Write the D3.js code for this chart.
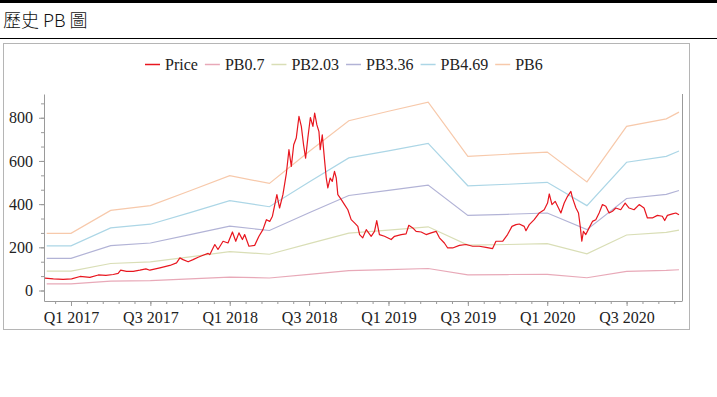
<!DOCTYPE html>
<html lang="zh-Hant">
<head>
  <meta charset="UTF-8">
  <title>歷史 PB 圖</title>
  <script src="https://d3js.org/d3.v7.min.js"></script>
  <style>
    body {
      margin: 0;
      background: #fff;
    }

    svg {
      display: block;
    }

    .title {
      font-family: "Noto Sans CJK TC", sans-serif;
      font-size: 18px;
      font-weight: 300;
      fill: #111;
    }

    .axis text, .legend-label {
      font-family: "Liberation Serif", "Times New Roman", serif;
      font-size: 16px;
      fill: #222;
    }

    .axis path, .axis line {
      stroke: #9a9a9a;
    }
  </style>
</head>
<body>
  <svg width="717" height="397"></svg>

  <script>
    // PB band values at quarter points (time as decimal year)
    const bookYears = [2016.847, 2017.0, 2017.25, 2017.5, 2017.75, 2018.0, 2018.25, 2018.5, 2018.75,
      2019.0, 2019.25, 2019.5, 2019.75, 2020.0, 2020.25, 2020.5, 2020.75, 2020.83];
    const pb07 = [31, 31, 43, 46, 54, 62, 58, 75, 92, 97, 102, 72, 74, 75, 59, 89, 93, 96];
    const pb203 = [90, 90, 125, 133, 156, 180, 168, 217, 266, 280, 295, 210, 213, 217, 170, 257, 269, 280];
    const pb336 = [149, 149, 208, 220, 259, 298, 278, 360, 440, 464, 488, 348, 353, 359, 282, 426, 445, 463];
    const pb469 = [207, 207, 290, 307, 361, 416, 388, 502, 614, 647, 681, 485, 492, 501, 393, 594, 621, 646];
    const pb6 = [265, 265, 371, 393, 462, 532, 496, 644, 786, 830, 872, 621, 631, 641, 503, 760, 795, 826];

    const pbNames = ["PB0.7", "PB2.03", "PB3.36", "PB4.69", "PB6"];
    const pbColors = ["#e8a9b8", "#d9deb6", "#b2b3d6", "#acd6e6", "#f7c9ab"];

    // [decimal year, price]
    const price = [
      [2016.836, 57], [2016.889, 54], [2016.95, 52], [2017.004, 54], [2017.057, 65], [2017.119, 61], [2017.172, 72],
      [2017.22, 70], [2017.266, 74], [2017.297, 79], [2017.313, 94], [2017.350, 89], [2017.392, 89], [2017.434, 94],
      [2017.472, 100], [2017.497, 94], [2017.560, 105], [2017.623, 116], [2017.665, 128], [2017.686, 151],
      [2017.706, 143], [2017.738, 133], [2017.769, 143], [2017.801, 154], [2017.832, 163], [2017.864, 172],
      [2017.874, 166], [2017.906, 213], [2017.926, 190], [2017.958, 228], [2017.989, 220], [2018.017, 271],
      [2018.038, 228], [2018.058, 267], [2018.080, 236], [2018.094, 259], [2018.121, 205], [2018.157, 209],
      [2018.184, 251], [2018.209, 282], [2018.231, 328], [2018.252, 320], [2018.269, 344], [2018.297, 444],
      [2018.314, 382], [2018.335, 444], [2018.357, 544], [2018.373, 652], [2018.388, 575], [2018.403, 675],
      [2018.419, 706], [2018.436, 806], [2018.451, 760], [2018.465, 675], [2018.478, 613], [2018.492, 706],
      [2018.508, 801], [2018.524, 760], [2018.535, 822], [2018.549, 767], [2018.562, 736], [2018.570, 652],
      [2018.583, 721], [2018.597, 606], [2018.608, 521], [2018.618, 475], [2018.633, 521], [2018.646, 505],
      [2018.660, 552], [2018.671, 521], [2018.681, 444], [2018.703, 421], [2018.723, 398], [2018.744, 374],
      [2018.765, 328], [2018.786, 313], [2018.807, 297], [2018.818, 259], [2018.838, 244], [2018.860, 282],
      [2018.891, 251], [2018.912, 274], [2018.926, 324], [2018.943, 259], [2018.975, 251], [2019.017, 236],
      [2019.038, 251], [2019.080, 259], [2019.111, 262], [2019.128, 302], [2019.153, 290], [2019.174, 274],
      [2019.206, 271], [2019.237, 259], [2019.269, 267], [2019.300, 274], [2019.321, 244], [2019.352, 220],
      [2019.373, 197], [2019.404, 197], [2019.447, 209], [2019.489, 213], [2019.530, 205], [2019.572, 205],
      [2019.614, 200], [2019.656, 194], [2019.677, 228], [2019.719, 228], [2019.750, 259], [2019.778, 297],
      [2019.803, 305], [2019.824, 308], [2019.855, 297], [2019.866, 277], [2019.887, 305], [2019.918, 328],
      [2019.950, 359], [2019.981, 374], [2020.002, 405], [2020.013, 447], [2020.030, 398], [2020.050, 413],
      [2020.071, 382], [2020.086, 359], [2020.107, 405], [2020.128, 436], [2020.149, 459], [2020.159, 429],
      [2020.181, 382], [2020.197, 359], [2020.208, 297], [2020.218, 228], [2020.228, 274], [2020.243, 259],
      [2020.264, 290], [2020.285, 320], [2020.306, 328], [2020.327, 359], [2020.348, 398], [2020.369, 390],
      [2020.390, 359], [2020.411, 367], [2020.432, 382], [2020.463, 374], [2020.491, 405], [2020.516, 382],
      [2020.547, 374], [2020.579, 398], [2020.610, 382], [2020.631, 336], [2020.662, 336], [2020.694, 348],
      [2020.725, 344], [2020.740, 324], [2020.757, 348], [2020.789, 355], [2020.810, 359], [2020.830, 351]
    ];

    const xTicks = [2017, 2017.5, 2018, 2018.5, 2019, 2019.5, 2020, 2020.5];
    const xTickLabels = ["Q1 2017", "Q3 2017", "Q1 2018", "Q3 2018", "Q1 2019", "Q3 2019", "Q1 2020", "Q3 2020"];
    const yTicks = [0, 200, 400, 600, 800];

    const svg = d3.select("svg");

    // page header
    svg.append("rect").attr("x", 0).attr("y", 0).attr("width", 717).attr("height", 3).attr("fill", "#000");
    svg.append("text").attr("class", "title").attr("x", 3).attr("y", 27).text("歷史 PB 圖");
    svg.append("line").attr("x1", 0).attr("x2", 717).attr("y1", 38.5).attr("y2", 38.5)
      .attr("stroke", "#000").attr("stroke-width", 1);

    // chart frame
    svg.append("rect").attr("x", 3.5).attr("y", 43.5).attr("width", 686).attr("height", 286)
      .attr("fill", "#fff").attr("stroke", "#b5b5b5");

    const plot = { left: 44, right: 682, top: 94, bottom: 301 };

    const x = d3.scaleLinear().domain([2016.83, 2020.849]).range([plot.left, plot.right]);
    const y = d3.scaleLinear().domain([-48.6, 910]).range([plot.bottom, plot.top]);

    // minor ticks
    const xMinor = d3.range(2016.9, 2020.81, 0.1);
    const yMinor = d3.range(0, 900, 200 / 3);

    svg.append("g").attr("class", "axis")
      .attr("transform", `translate(0,${plot.bottom})`)
      .call(d3.axisBottom(x).tickValues(xMinor).tickSize(3).tickFormat(""))
      .select(".domain").remove();
    svg.append("g").attr("class", "axis")
      .attr("transform", `translate(${plot.left},0)`)
      .call(d3.axisLeft(y).tickValues(yMinor).tickSize(3).tickFormat(""))
      .select(".domain").remove();

    svg.append("g").attr("class", "axis")
      .attr("transform", `translate(0,${plot.bottom})`)
      .call(d3.axisBottom(x).tickValues(xTicks).tickSizeInner(5).tickSizeOuter(0).tickPadding(6)
        .tickFormat((d, i) => xTickLabels[i]));
    svg.append("g").attr("class", "axis")
      .attr("transform", `translate(${plot.left},0)`)
      .call(d3.axisLeft(y).tickValues(yTicks).tickSizeInner(5).tickSizeOuter(0).tickPadding(6));

    svg.append("line").attr("x1", plot.right + 0.5).attr("x2", plot.right + 0.5)
      .attr("y1", plot.top).attr("y2", plot.bottom).attr("stroke", "#9a9a9a");

    // lines
    const line = d3.line().x(d => x(d[0])).y(d => y(d[1]));
    const pbSeries = [pb07, pb203, pb336, pb469, pb6];

    pbSeries.forEach((vals, i) => {
      svg.append("path")
        .datum(bookYears.map((t, j) => [t, vals[j]]))
        .attr("fill", "none")
        .attr("stroke", pbColors[i])
        .attr("stroke-width", 1.2)
        .attr("d", line);
    });

    svg.append("path")
      .datum(price)
      .attr("fill", "none")
      .attr("stroke", "#e8161f")
      .attr("stroke-width", 1.2)
      .attr("stroke-linejoin", "round")
      .attr("d", line);

    // legend
    const legendItems = [{ name: "Price", color: "#e8161f" }]
      .concat(pbNames.map((n, i) => ({ name: n, color: pbColors[i] })));
    let lx = 145;
    legendItems.forEach(item => {
      const g = svg.append("g");
      g.append("line").attr("x1", lx).attr("x2", lx + 15).attr("y1", 64.5).attr("y2", 64.5)
        .attr("stroke", item.color).attr("stroke-width", 1.5);
      const t = g.append("text").attr("class", "legend-label")
        .attr("x", lx + 20).attr("y", 69.5).text(item.name);
      lx += 20 + t.node().getComputedTextLength() + 7;
    });
  </script>
</body>
</html>
